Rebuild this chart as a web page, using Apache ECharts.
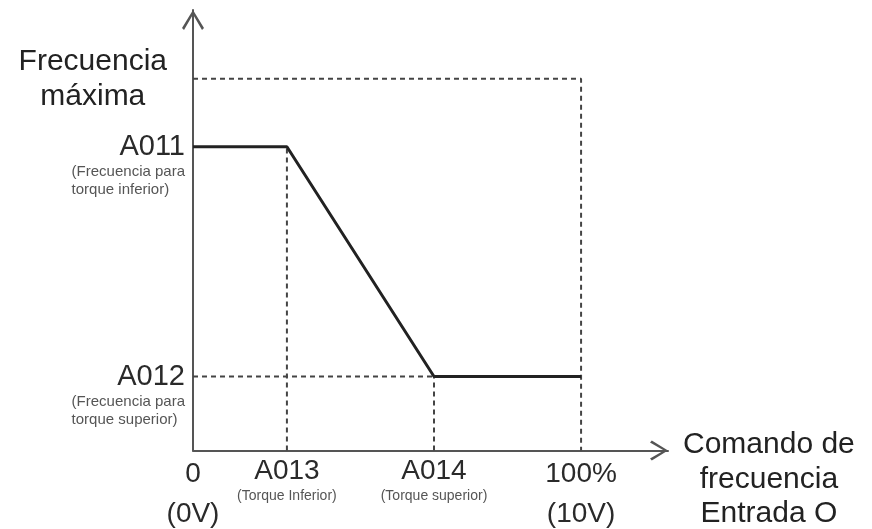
<!DOCTYPE html>
<html>
<head>
<meta charset="utf-8">
<script src="https://cdn.jsdelivr.net/npm/echarts@6/dist/echarts.min.js"></script>
<style>
html,body{margin:0;padding:0;background:#fff;}
#chart{width:872px;height:529px;}
</style>
</head>
<body>
<div id="chart"></div>
<script>
// ---- data ----
const commandPoints = [0, 24.2, 62.1, 100];          // 0, A013, A014, 100%
const frequencyValues = [81.7, 81.7, 19.9, 19.9];     // A011, A011, A012, A012
const fmax = 100;                                     // Frecuencia máxima
const xTickValues = [0, 24.2, 62.1, 100];
const xTickMain = ['0', 'A013', 'A014', '100%'];
const xTickSub = ['(0V)', '(Torque Inferior)', '(Torque superior)', '(10V)'];
const yTickValues = [19.9, 81.7];
const yTickMain = ['A012', 'A011'];
const yTickSub = [['(Frecuencia para', 'torque superior)'], ['(Frecuencia para', 'torque inferior)']];
const fmaxLabel = ['Frecuencia', 'máxima'];
const xAxisTitle = ['Comando de', 'frecuencia', 'Entrada O'];

const FONT = 'Liberation Sans, Arial, Helvetica, sans-serif';
const chart = echarts.init(document.getElementById('chart'));

const arrowPath = 'path://M11,0 L22,18 L20,20 L11,4.5 L2,20 L0,18 Z';

const mainLine = commandPoints.map((x, i) => [x, frequencyValues[i]]);
const dashStyle = {color: '#444', width: 2, type: [5, 4]};

const dashedSegments = [
  [[commandPoints[1], 0], [commandPoints[1], frequencyValues[1]]],
  [[commandPoints[2], 0], [commandPoints[2], frequencyValues[2]]],
  [[0, frequencyValues[2]], [commandPoints[2], frequencyValues[2]]],
  [[0, fmax], [commandPoints[3], fmax], [commandPoints[3], 0]]
];

const series = dashedSegments.map(d => ({
  type: 'line', data: d, showSymbol: false, silent: true,
  lineStyle: dashStyle, z: 2, yAxisIndex: 0
}));
series.push({
  type: 'line', data: mainLine, showSymbol: false, silent: true,
  lineStyle: {color: '#222', width: 3}, z: 3, yAxisIndex: 0
});

chart.setOption({
  animation: false,
  backgroundColor: '#fff',
  textStyle: {fontFamily: FONT},
  grid: {left: 193, right: 204, top: 10, bottom: 78, containLabel: false},
  xAxis: {
    type: 'value', min: 0, max: 122.4,
    splitLine: {show: false}, axisTick: {show: false},
    axisLine: {
      show: true, onZero: false,
      lineStyle: {color: '#555', width: 2},
      symbol: ['none', arrowPath], symbolSize: [20, 18], symbolOffset: [0, -9]
    },
    axisLabel: {
      customValues: xTickValues,
      margin: 4, hideOverlap: false,
      color: '#333', fontFamily: FONT,
      formatter: function (v) {
        const i = xTickValues.indexOf(v);
        if (i < 0) return '';
        if (i === 0 || i === 3) return '{xb|' + xTickMain[i] + '}\n{xb|' + xTickSub[i] + '}';
        return '{xa|' + xTickMain[i] + '}\n{xs|' + xTickSub[i] + '}';
      },
      rich: {
        xb: {fontSize: 28, lineHeight: 40, color: '#2a2a2a', fontFamily: FONT, align: 'center'},
        xa: {fontSize: 28, lineHeight: 34, color: '#2a2a2a', fontFamily: FONT, align: 'center'},
        xs: {fontSize: 14, lineHeight: 16, color: '#555', fontFamily: FONT, align: 'center'}
      }
    },
    name: xAxisTitle.map(t => '{n|' + t + '}').join('\n'),
    nameLocation: 'end', nameGap: 15,
    nameTextStyle: {
      align: 'left', verticalAlign: 'middle', padding: [58, 0, 0, 0],
      rich: {n: {fontSize: 30, lineHeight: 34.5, color: '#222', fontFamily: FONT, align: 'center'}}
    }
  },
  yAxis: [{
    type: 'value', min: 0, max: 118.5,
    splitLine: {show: false}, axisTick: {show: false},
    axisLine: {
      show: true, onZero: false,
      lineStyle: {color: '#555', width: 2},
      symbol: ['none', arrowPath], symbolSize: [22, 20], symbolOffset: [0, -10]
    },
    axisLabel: {
      customValues: yTickValues,
      margin: 8, hideOverlap: false,
      color: '#333', fontFamily: FONT,
      formatter: function (v) {
        const i = yTickValues.indexOf(v);
        if (i < 0) return '';
        return '{gap| }\n{yb|' + yTickMain[i] + '}\n' + yTickSub[i].map(t => '{ys|' + t + '}').join('\n');
      },
      rich: {
        gap: {fontSize: 10, lineHeight: 36},
        yb: {fontSize: 29, lineHeight: 32, color: '#2a2a2a', fontFamily: FONT, align: 'right'},
        ys: {fontSize: 15, lineHeight: 18, color: '#555', fontFamily: FONT, align: 'left'}
      }
    }
  }, {
    type: 'value', min: 0, max: 118.5, position: 'left', offset: 0,
    splitLine: {show: false}, axisTick: {show: false},
    axisLine: {show: false, onZero: false},
    axisLabel: {
      customValues: [fmax],
      margin: 8, hideOverlap: false,
      fontFamily: FONT,
      formatter: function () {
        return fmaxLabel.map(t => '{fm|' + t + '}').join('\n');
      },
      rich: {
        fm: {fontSize: 30, lineHeight: 35, color: '#222', fontFamily: FONT, align: 'center', padding: [0, 18, 0, 0]}
      }
    }
  }],
  series: series
});
</script>
</body>
</html>
